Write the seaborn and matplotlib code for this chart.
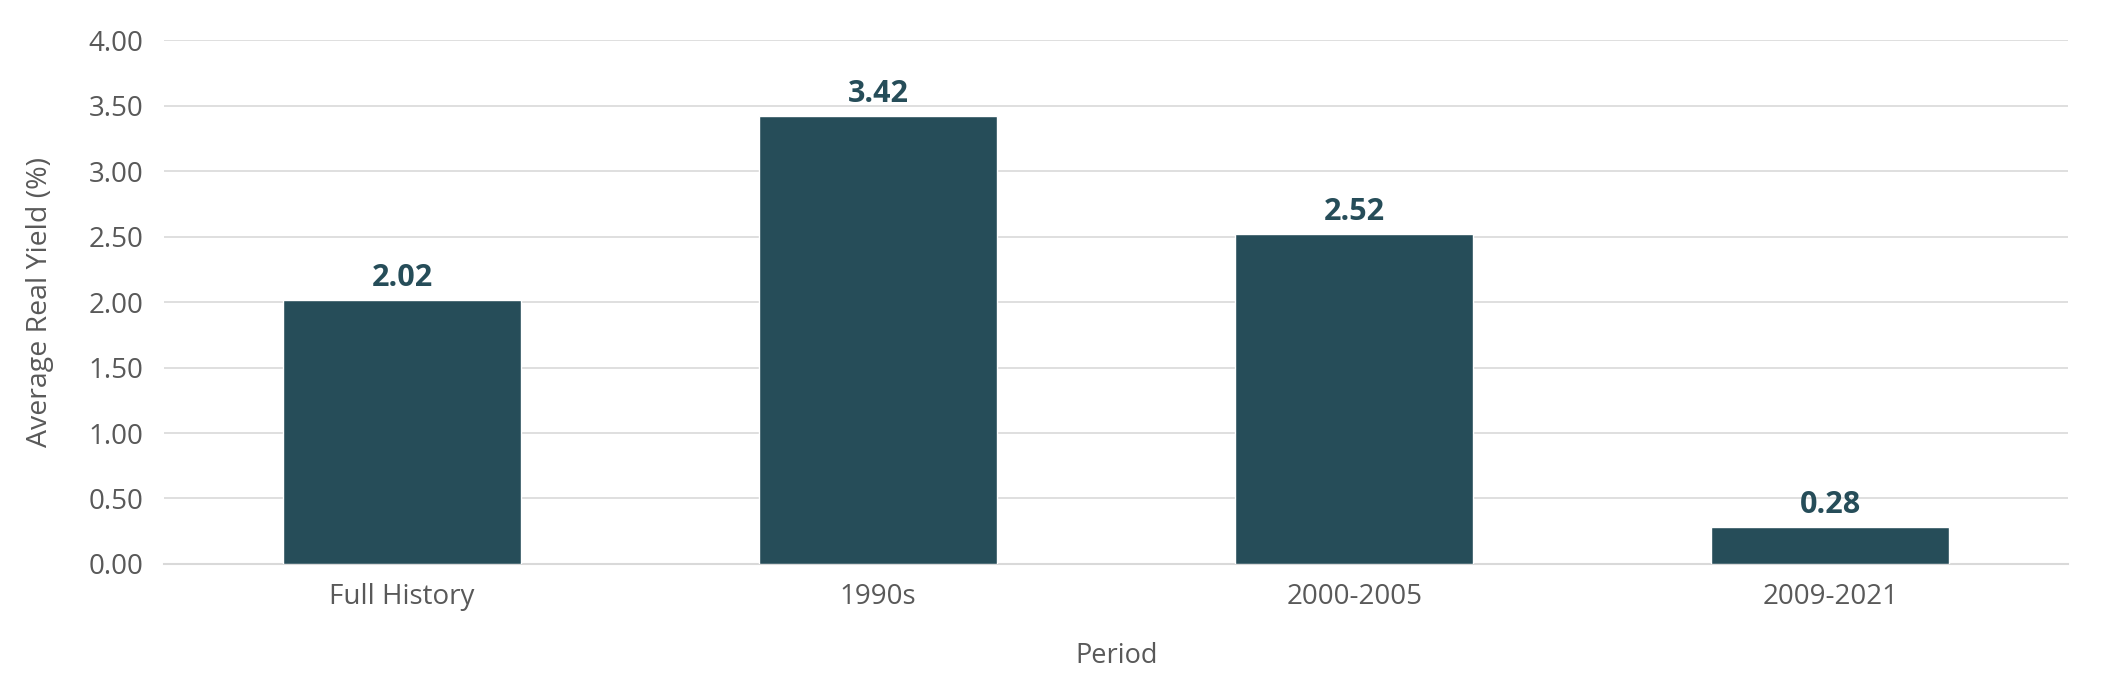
import matplotlib
matplotlib.use("Agg")
import matplotlib.pyplot as plt
import pandas as pd
import seaborn as sns

periods = ["Full History", "1990s", "2000-2005", "2009-2021"]
avg_real_yield = [2.02, 3.42, 2.52, 0.28]
y_ticks = [0.0, 0.5, 1.0, 1.5, 2.0, 2.5, 3.0, 3.5, 4.0]

BAR = "#264D59"
GRID = "#D9D9D9"
TEXT = "#595959"

sns.set_theme(style="white")
plt.rcParams["font.family"] = ["Open Sans", "DejaVu Sans"]

df = pd.DataFrame({"Period": periods, "yield": avg_real_yield})

fig, ax = plt.subplots(figsize=(21.04, 6.86), dpi=100)
fig.subplots_adjust(left=0.078, right=0.983, bottom=0.178, top=0.941)

sns.barplot(data=df, x="Period", y="yield", color=BAR, width=0.5, saturation=1, ax=ax, zorder=3)

for p, v in zip(ax.patches, avg_real_yield):
    ax.annotate(f"{v:.2f}", (p.get_x() + p.get_width() / 2, p.get_height()),
                xytext=(0, 5), textcoords="offset points", ha="center", va="bottom",
                fontsize=22, fontweight="bold", color=BAR)

ax.set_ylim(0, 4)
ax.set_xlim(-0.5, len(periods) - 0.5)
ax.set_yticks(y_ticks)
ax.set_yticklabels([f"{t:.2f}" for t in y_ticks])
ax.yaxis.grid(True, color=GRID, linewidth=1.2, zorder=0)
ax.set_axisbelow(True)
for side in ["top", "right", "left"]:
    ax.spines[side].set_visible(False)
ax.spines["bottom"].set_color(GRID)
ax.spines["bottom"].set_linewidth(1.5)
ax.tick_params(axis="both", length=0, labelsize=20, labelcolor=TEXT)
ax.tick_params(axis="y", pad=15)
ax.tick_params(axis="x", pad=14)
ax.set_xlabel("Period", fontsize=19.5, color=TEXT, labelpad=22)
ax.set_ylabel("Average Real Yield (%)", fontsize=20.5, color=TEXT)
ax.yaxis.set_label_coords(-0.058, 0.5)

fig.savefig("out.png", dpi=100)
plt.close(fig)
